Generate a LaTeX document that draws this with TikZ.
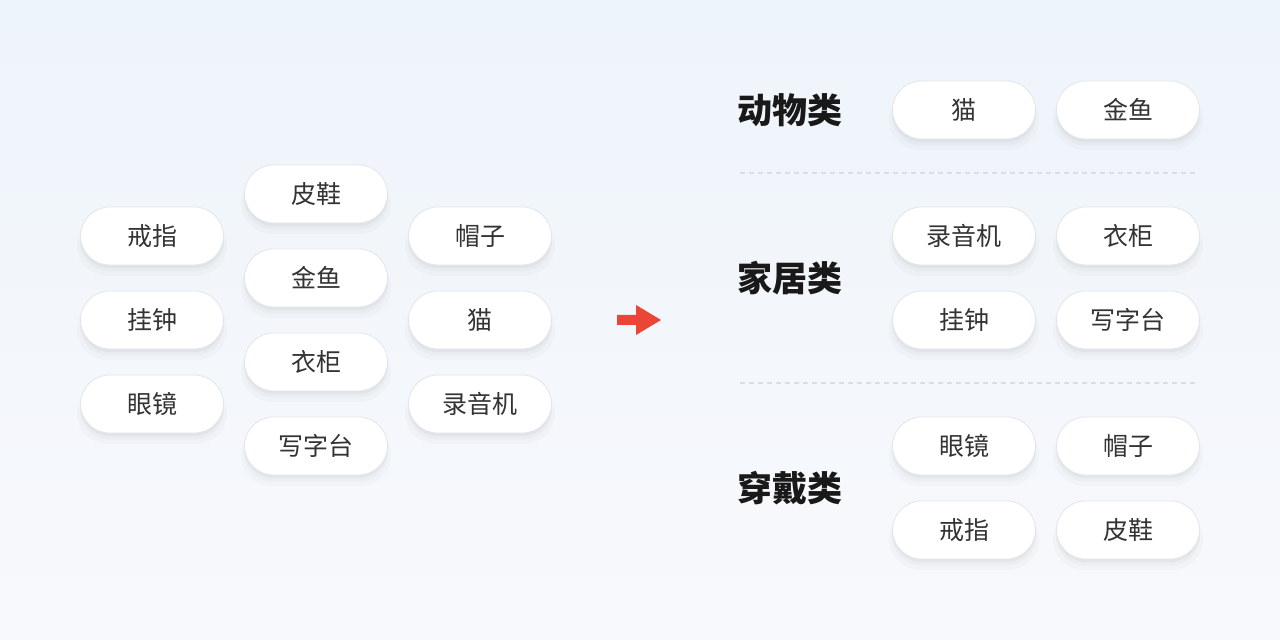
\documentclass[tikz,border=0pt]{standalone}
\usepackage{fontspec}
\setmainfont{Noto Sans CJK SC}
\usetikzlibrary{positioning, shadows}
\definecolor{bgtop}{HTML}{EEF4FB}
\definecolor{bgbottom}{HTML}{F8F9FC}
\definecolor{pillline}{HTML}{E2E5EA}
\definecolor{pilltext}{HTML}{333333}
\definecolor{arrowred}{HTML}{EB4537}
\definecolor{sepline}{HTML}{D9DEE5}

\begin{document}
\begin{tikzpicture}[x=1pt, y=1pt, node distance=25.2pt,
    pill/.style={draw=pillline, line width=0.8pt, fill=white, rounded corners=29pt,
        minimum width=143pt, minimum height=58pt, inner sep=0pt, text=pilltext,
        font=\fontsize{25}{25}\selectfont,
        general shadow={draw=none, fill=black, opacity=0.018, shadow yshift=-9pt, shadow scale=1.05},
        general shadow={draw=none, fill=black, opacity=0.025, shadow yshift=-6pt, shadow scale=1.01},
        general shadow={draw=none, fill=black, opacity=0.03, shadow yshift=-3pt}},
    group/.style={font=\bfseries\fontsize{35}{35}\selectfont, text=black!90}]
    \useasboundingbox (0,0) rectangle (1280,640);
    \shade[top color=bgtop, bottom color=bgbottom] (0,0) rectangle (1280,640);

    % unsorted items
    \node[pill] (ring) at (152,404) {戒指};
    \node[pill, below=of ring] (clock) {挂钟};
    \node[pill, below=of clock] (glasses) {眼镜};
    \node[pill] (shoes) at (316,446) {皮鞋};
    \node[pill, below=of shoes] (goldfish) {金鱼};
    \node[pill, below=of goldfish] (wardrobe) {衣柜};
    \node[pill, below=of wardrobe] (desk) {写字台};
    \node[pill] (hat) at (480,404) {帽子};
    \node[pill, below=of hat] (cat) {猫};
    \node[pill, below=of cat] (recorder) {录音机};

    \fill[arrowred] (617,315) -- (636,315) -- (636,305) -- (661,320) -- (636,335) -- (636,325) -- (617,325) -- cycle;

    % sorted groups
    \node[group] (animals) at (790,530) {动物类};
    \node[pill] (cat 2) at (964,530) {猫};
    \node[pill, right=20.2pt of cat 2] (goldfish 2) {金鱼};

    \node[group] (home) at (790,362) {家居类};
    \node[pill] (recorder 2) at (964,404) {录音机};
    \node[pill, right=20.2pt of recorder 2] (wardrobe 2) {衣柜};
    \node[pill, below=of recorder 2] (clock 2) {挂钟};
    \node[pill, right=20.2pt of clock 2] (desk 2) {写字台};

    \node[group] (wear) at (790,152) {穿戴类};
    \node[pill] (glasses 2) at (964,194) {眼镜};
    \node[pill, right=20.2pt of glasses 2] (hat 2) {帽子};
    \node[pill, below=of glasses 2] (ring 2) {戒指};
    \node[pill, right=20.2pt of ring 2] (shoes 2) {皮鞋};

    \draw[sepline, line width=1.2pt, dash pattern=on 5pt off 4pt] (740,467) -- (1197,467);
    \draw[sepline, line width=1.2pt, dash pattern=on 5pt off 4pt] (740,257) -- (1197,257);
\end{tikzpicture}
\end{document}
